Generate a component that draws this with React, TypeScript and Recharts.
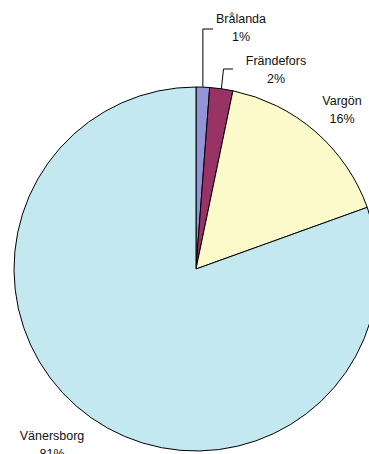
import React from "react";
import { PieChart, Pie, Cell } from "recharts";

const categories = ["Brålanda", "Frändefors", "Vargön", "Vänersborg"];
const values = [1.2, 2.05, 16.25, 80.5];
const colors = ["#9393D8", "#993366", "#FCFACB", "#C4E8F0"];

const data = categories.map((name, i) => ({ name, value: values[i] }));
const total = values.reduce((a, b) => a + b, 0);

// label layout (text centre x, first baseline y, optional leader line bend/end)
const labelLayout = [
  { tx: 241, ty: 23, bend: { y: 29 }, end: { x: 213, y: 29 } },
  { tx: 276, ty: 65, bend: { x: 223.5, y: 69 }, end: { x: 233, y: 69 } },
  { tx: 342, ty: 105 },
  { tx: 52, ty: 440 },
];

const FONT = "'Liberation Sans', Arial, sans-serif";

const renderLabel = (props: any) => {
  const { cx, cy, midAngle, outerRadius, index, value } = props;
  const L = labelLayout[index];
  const rad = (Math.PI / 180) * midAngle;
  const mx = cx + outerRadius * Math.cos(rad);
  const my = cy - outerRadius * Math.sin(rad);
  const pct = Math.round((value / total) * 100) + "%";
  let line = null;
  if (L.end) {
    const bx = L.bend && (L.bend as any).x !== undefined ? (L.bend as any).x : mx;
    const by = L.bend.y;
    line = (
      <polyline
        points={`${mx},${my} ${bx},${by} ${L.end.x},${L.end.y}`}
        fill="none"
        stroke="#000"
        strokeWidth={1}
      />
    );
  }
  return (
    <g key={`lbl-${index}`}>
      {line}
      <text
        x={L.tx}
        y={L.ty}
        textAnchor="middle"
        fontFamily={FONT}
        fontSize={12.5}
        fill="#111"
      >
        {categories[index]}
      </text>
      <text
        x={L.tx}
        y={L.ty + 18}
        textAnchor="middle"
        fontFamily={FONT}
        fontSize={12.5}
        fill="#111"
      >
        {pct}
      </text>
    </g>
  );
};

export default function App() {
  return (
    <div style={{ position: "absolute", left: 0, top: 0, width: 369, height: 454, background: "#fff", overflow: "hidden" }}>
      <PieChart width={369} height={454} margin={{ top: 0, right: 0, bottom: 0, left: 0 }}>
        <Pie
          data={data}
          dataKey="value"
          nameKey="name"
          cx={196}
          cy={269}
          outerRadius={182}
          innerRadius={0}
          startAngle={90}
          endAngle={-270}
          stroke="#000"
          strokeWidth={1}
          label={renderLabel}
          labelLine={false}
          isAnimationActive={false}
        >
          {data.map((d, i) => (
            <Cell key={d.name} fill={colors[i]} />
          ))}
        </Pie>
      </PieChart>
    </div>
  );
}
